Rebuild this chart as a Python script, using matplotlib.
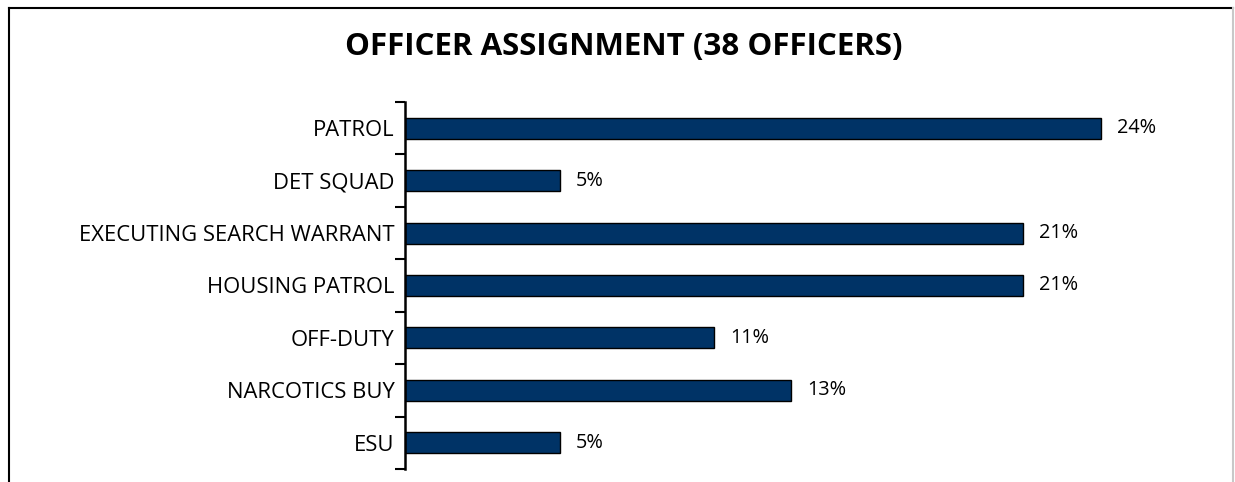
import matplotlib.pyplot as plt
from matplotlib.lines import Line2D
import numpy as np

plt.rcParams["font.family"] = ["Open Sans", "DejaVu Sans"]

title = "OFFICER ASSIGNMENT (38 OFFICERS)"
assignments = [
    "PATROL",
    "DET SQUAD",
    "EXECUTING SEARCH WARRANT",
    "HOUSING PATROL",
    "OFF-DUTY",
    "NARCOTICS BUY",
    "ESU",
]
officers = [9, 2, 8, 8, 4, 5, 2]
total_officers = 38

bar_color = "#003366"


def main() -> None:
    fig = plt.figure(figsize=(12.35, 4.82), dpi=100)
    ax = fig.add_axes([0.328, 0.027, 0.636, 0.7614])

    share = np.array(officers) / total_officers * 100
    y = np.arange(len(assignments))
    ax.barh(y, share, height=0.4, color=bar_color, edgecolor="black", linewidth=1.0)

    for yi, val in zip(y, share):
        ax.text(val + 0.55, yi, f"{val:.0f}%", va="center", ha="left", fontsize=14.3)

    ax.set_ylim(len(assignments) - 0.5, -0.5)
    ax.set_xlim(0, 26.75)

    ax.set_yticks(y)
    ax.set_yticklabels(assignments, fontsize=15.8)
    ax.set_yticks(np.arange(len(assignments) + 1) - 0.5, minor=True)
    ax.tick_params(axis="y", which="major", length=0, pad=7.5)
    ax.tick_params(axis="y", which="minor", length=7, width=1.5, direction="out")
    ax.set_xticks([])

    for side in ("top", "right", "bottom"):
        ax.spines[side].set_visible(False)
    ax.spines["left"].set_linewidth(1.8)

    fig.text(0.505, 0.902, title, ha="center", va="center", fontsize=22.5, fontweight="bold")

    # outer frame, open at the bottom
    fig.add_artist(Line2D([0.0073, 0.0073], [0.0, 0.983], transform=fig.transFigure, color="black", linewidth=1.5))
    fig.add_artist(Line2D([0.0073, 0.9985], [0.983, 0.983], transform=fig.transFigure, color="black", linewidth=1.5))
    fig.add_artist(Line2D([0.9985, 0.9985], [0.0, 0.983], transform=fig.transFigure, color="#c8c8c8", linewidth=1.5))

    fig.savefig("out.png", dpi=100)
    plt.close(fig)


if __name__ == "__main__":
    main()
